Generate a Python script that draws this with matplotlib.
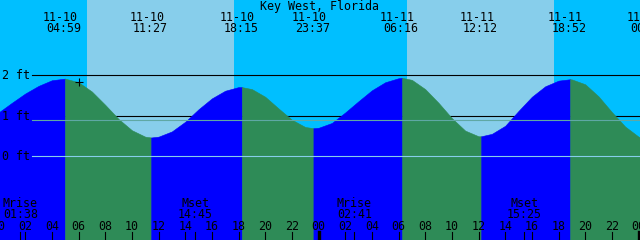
import matplotlib
matplotlib.use('Agg')
import matplotlib.pyplot as plt
import matplotlib.transforms as mtransforms
import numpy as np

# datos (marea en Key West, pies)
title = "Key West, Florida"
hours = list(range(49))
height_ft = [1.08, 1.32, 1.55, 1.74, 1.88, 1.92, 1.83, 1.60, 1.27, 0.92,
             0.64, 0.48, 0.48, 0.61, 0.85, 1.16, 1.43, 1.62, 1.71, 1.66,
             1.47, 1.18, 0.90, 0.72, 0.70, 0.82, 1.08, 1.36, 1.63, 1.83,
             1.93, 1.89, 1.66, 1.32, 0.94, 0.63, 0.49, 0.55, 0.75, 1.12,
             1.47, 1.73, 1.87, 1.90, 1.78, 1.48, 1.09, 0.73, 0.48]

ext_date = ["11-10", "11-10", "11-10", "11-10", "11-11", "11-11", "11-11", "11-12"]
ext_time = ["04:59", "11:27", "18:15", "23:37", "06:16", "12:12", "18:52", "00:47"]
ext_ft = [1.92, 0.46, 1.71, 0.69, 1.94, 0.49, 1.905, 0.42]

moon_event = ["Mrise", "Mset", "Mrise", "Mset"]
moon_day = [0, 0, 1, 1]
moon_time = ["01:38", "14:45", "02:41", "15:25"]

sun_rise = ["06:38", "06:38"]
sun_set = ["17:40", "17:40"]

level_ft = [2, 1, 0]
level_labels = ["2 ft", "1 ft", "0 ft"]
msl_ft = 0.886
hour_ticks = list(range(0, 49, 2))
now_hour = 6.04
now_ft = 1.84

NIGHT = '#00BFFF'
DAY = '#87CEEB'
RISE = '#0000FF'
FALL = '#2E8B57'
MSL_C = '#5FA8A4'
DATUM_C = '#87CEEB'
FONT = 'DejaVu Sans Mono'
FS = 8.4


def to_h(day, hhmm):
    h, m = hhmm.split(':')
    return day * 24 + int(h) + int(m) / 60.0


ext_h = [to_h(int(d[-2:]) - 10, t) for d, t in zip(ext_date, ext_time)]

fig = plt.figure(figsize=(6.4, 2.4), dpi=100, facecolor=NIGHT)
ax = fig.add_axes([0, 0, 1, 1])
ax.set_axis_off()
x0, x1 = 0.11, 48.11
y0, y1 = -2.084, 3.871
ax.set_xlim(x0, x1)
ax.set_ylim(y0, y1)
pxh = (x1 - x0) / 640.0  # horas por pixel

blend = mtransforms.blended_transform_factory(ax.transData, ax.transAxes)


def fy(px):
    return 1 - px / 240.0


# dia / noche
for d in range(2):
    ax.axvspan(to_h(d, sun_rise[d]), to_h(d, sun_set[d]), color=DAY, lw=0, zorder=0)

# lineas negras de nivel (detras de la marea)
for lv in level_ft:
    ax.axhline(lv, xmin=32 / 640, xmax=1, color='black', lw=0.8, zorder=1)

# serie completa: horas + extremos
t_all = np.array(hours + ext_h, dtype=float)
h_all = np.array(height_ft + ext_ft, dtype=float)
order = np.argsort(t_all)
t_all = t_all[order]
h_all = h_all[order]

bounds = sorted(set([t_all[0]] + ext_h + [t_all[-1]]))
for a, b in zip(bounds[:-1], bounds[1:]):
    m = (t_all >= a - 1e-9) & (t_all <= b + 1e-9)
    tt = t_all[m]
    hh = h_all[m]
    c = RISE if hh[-1] > hh[0] else FALL
    ax.fill_between(tt, hh, y0, color=c, lw=0.4, edgecolor=c, zorder=2)

# lineas claras encima
ax.axhline(msl_ft, xmin=32 / 640, xmax=1, color=MSL_C, lw=0.8, zorder=3)
ax.axhline(0, xmin=32 / 640, xmax=1, color=DATUM_C, lw=0.8, zorder=3)

# marca de hora actual
ax.plot([now_hour], [now_ft], marker='+', color='black', ms=6, mew=0.8, zorder=4)

# titulo
ax.text(0.5, fy(10), title, transform=ax.transAxes, ha='center', va='baseline',
        fontsize=FS, family=FONT, zorder=5)

# etiquetas de extremos
for d, t, h in zip(ext_date, ext_time, ext_h):
    ax.text(h - 4.5 * pxh, fy(21), d, transform=blend, ha='center', va='baseline',
            fontsize=FS, family=FONT, zorder=5)
    ax.text(h - 1.0 * pxh, fy(32.5), t, transform=blend, ha='center', va='baseline',
            fontsize=FS, family=FONT, zorder=5)

# etiquetas de nivel
for lv, lab, base in zip(level_ft, level_labels, [79, 119.5, 160]):
    ax.text(2 / 640, fy(base), lab, transform=ax.transAxes, ha='left', va='baseline',
            fontsize=FS, family=FONT, zorder=5)

# luna
for ev, d, t in zip(moon_event, moon_day, moon_time):
    h = to_h(d, t)
    ax.text(h, fy(206.7), ev, transform=blend, ha='center', va='baseline',
            fontsize=FS, family=FONT, zorder=5)
    ax.text(h, fy(217.7), t, transform=blend, ha='center', va='baseline',
            fontsize=FS, family=FONT, zorder=5)
    ax.plot([h, h], [0, fy(232)], transform=blend, color='black', lw=0.8, zorder=5)

# horas y marcas
for hr in hour_ticks:
    ax.text(hr, fy(229.5), "%02d" % (hr % 24), transform=blend, ha='center',
            va='baseline', fontsize=FS, family=FONT, zorder=5)
    w = 2.4 if (hr % 24 == 0 and hr > 0) else 0.8
    ax.plot([hr, hr], [0, fy(232)], transform=blend, color='black', lw=w, zorder=5)

fig.savefig('out.png', dpi=100, facecolor=NIGHT)
